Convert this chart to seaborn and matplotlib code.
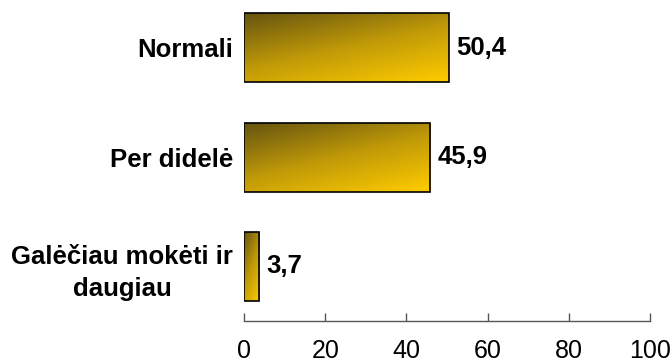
import numpy as np
import pandas as pd
import matplotlib
matplotlib.use("Agg")
import matplotlib.pyplot as plt
import seaborn as sns
from matplotlib.colors import LinearSegmentedColormap

# Duomenys
categories = ["Normali", "Per didelė", "Galėčiau mokėti ir\ndaugiau"]
values = [50.4, 45.9, 3.7]
value_labels = ["50,4", "45,9", "3,7"]
x_ticks = [0, 20, 40, 60, 80, 100]

df = pd.DataFrame({"cat": categories, "val": values})

sns.set_theme(style="white")
plt.rcParams["font.family"] = ["Liberation Sans", "DejaVu Sans"]

fig = plt.figure(figsize=(6.72, 3.62), dpi=100)
ax = fig.add_axes([0.3631, 0.1133, 0.6042, 0.9054])

sns.barplot(data=df, x="val", y="cat", orient="h", ax=ax, width=0.63,
            color="#c8a000", edgecolor="black", linewidth=1.2)

# Gradientas kiekvienam stulpeliui
cmap = LinearSegmentedColormap.from_list("gold", ["#665410", "#c09a08", "#ffcc00"])
u = np.linspace(0, 1, 200)
v = np.linspace(0, 1, 60)
U, V = np.meshgrid(u, v)
grad = (U * 0.4 + V * 0.6)

for p in list(ax.patches):
    x0, y0 = p.get_x(), p.get_y()
    w, h = p.get_width(), p.get_height()
    im = ax.imshow(grad, cmap=cmap, aspect="auto", origin="upper",
                   extent=(x0, x0 + w, y0 + h, y0), zorder=1)
    im.set_clip_path(p)
    p.set_facecolor("none")
    p.set_zorder(2)

ax.set_xlim(0, 100)
ax.set_ylim(2.5, -0.5)

for i, (v_, lab) in enumerate(zip(values, value_labels)):
    ax.text(v_ + 1.8, i, lab, va="center", ha="left", fontsize=18.5,
            fontweight="bold", color="black")

ax.set_xticks(x_ticks)
ax.set_xticklabels([str(t) for t in x_ticks], fontsize=18, color="black")
ax.tick_params(axis="x", direction="in", length=6, width=1, color="#555555",
               pad=13, bottom=True, labelcolor="black")
ax.tick_params(axis="y", left=False, pad=2, labelcolor="black")
for lab in ax.get_yticklabels():
    lab.set_fontsize(18.5)
    lab.set_fontweight("bold")
    lab.set_multialignment("center")
    lab.set_linespacing(1.45)

ax.set_xlabel("")
ax.set_ylabel("")
for s in ["top", "right", "left"]:
    ax.spines[s].set_visible(False)
ax.spines["bottom"].set_color("#555555")
ax.spines["bottom"].set_linewidth(1)

fig.savefig("out.png", dpi=100)
plt.close(fig)
